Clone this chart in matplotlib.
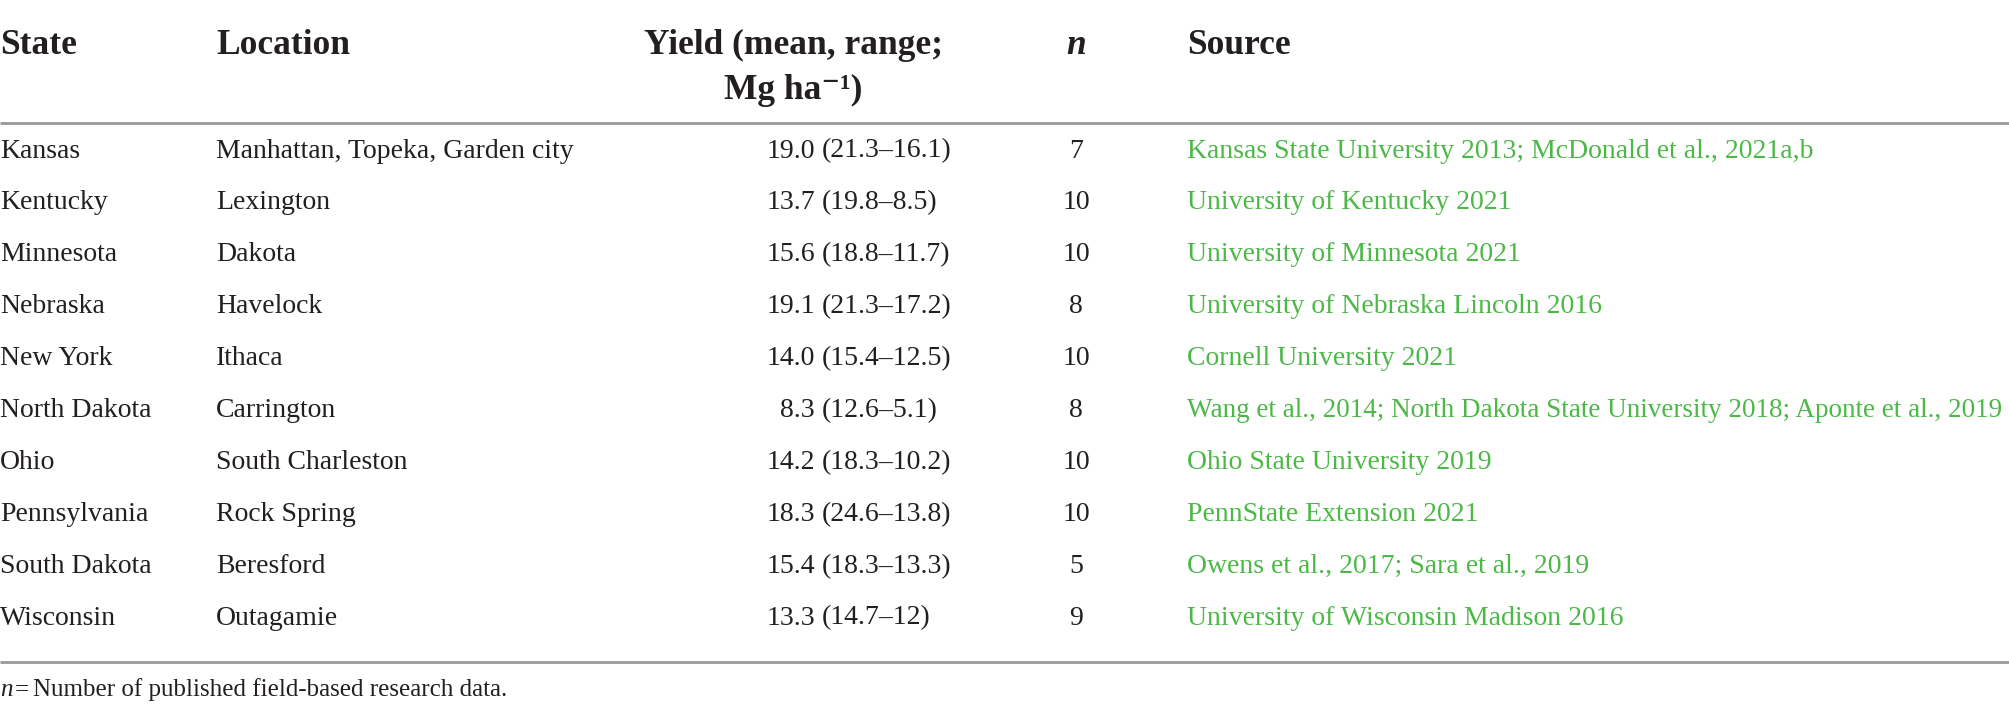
import matplotlib
matplotlib.use('Agg')
import matplotlib.pyplot as plt

# table data
states = ['Kansas', 'Kentucky', 'Minnesota', 'Nebraska', 'New York',
          'North Dakota', 'Ohio', 'Pennsylvania', 'South Dakota', 'Wisconsin']
locations = ['Manhattan, Topeka, Garden city', 'Lexington', 'Dakota', 'Havelock',
             'Ithaca', 'Carrington', 'South Charleston', 'Rock Spring',
             'Beresford', 'Outagamie']
yield_mean = [19.0, 13.7, 15.6, 19.1, 14.0, 8.3, 14.2, 18.3, 15.4, 13.3]
yield_max = [21.3, 19.8, 18.8, 21.3, 15.4, 12.6, 18.3, 24.6, 18.3, 14.7]
yield_min = [16.1, 8.5, 11.7, 17.2, 12.5, 5.1, 10.2, 13.8, 13.3, 12]
n_obs = [7, 10, 10, 8, 10, 8, 10, 10, 5, 9]
sources = ['Kansas State University 2013; McDonald et al., 2021a,b',
           'University of Kentucky 2021',
           'University of Minnesota 2021',
           'University of Nebraska Lincoln 2016',
           'Cornell University 2021',
           'Wang et al., 2014; North Dakota State University 2018; Aponte et al., 2019',
           'Ohio State University 2019',
           'PennState Extension 2021',
           'Owens et al., 2017; Sara et al., 2019',
           'University of Wisconsin Madison 2016']
footnote = 'Number of published field-based research data.'

W, H = 2009, 715
fig = plt.figure(figsize=(W / 100, H / 100), dpi=100)
ax = fig.add_axes([0, 0, 1, 1])
ax.set_xlim(0, W)
ax.set_ylim(H, 0)
ax.axis('off')

serif = ['Liberation Serif', 'DejaVu Serif']
ink = '#231f20'
green = '#4cb847'
body = 20
head = 25.5

# header
hy1, hy2 = 45, 90
ax.text(0, hy1, 'State', family=serif, weight='bold', size=head, color=ink, va='center')
ax.text(216, hy1, 'Location', family=serif, weight='bold', size=head, color=ink, va='center')
ax.text(793, hy1, 'Yield (mean, range;', family=serif, weight='bold', size=head,
        color=ink, va='center', ha='center')
ax.text(793, hy2, 'Mg ha\u207b\u00b9)', family=serif, weight='bold', size=head,
        color=ink, va='center', ha='center')
ax.text(1076, hy1, 'n', family=serif, weight='bold', style='italic', size=head,
        color=ink, va='center', ha='center')
ax.text(1187, hy1, 'Source', family=serif, weight='bold', size=head, color=ink, va='center')

# rules
ax.plot([0, W], [123, 123], color='#999999', lw=2, solid_capstyle='butt')
ax.plot([0, W], [662, 662], color='#999999', lw=2, solid_capstyle='butt')

# rows
renderer = fig.canvas.get_renderer()
y0, dy = 151, 51.9
for i in range(len(states)):
    y = y0 + i * dy
    ax.text(0, y, states[i], family=serif, size=body, color=ink, va='center')
    ax.text(216, y, locations[i], family=serif, size=body, color=ink, va='center')
    ax.text(815, y, f'{yield_mean[i]:.1f}', family=serif, size=body, color=ink,
            va='center', ha='right')
    ax.text(822, y, f'({yield_max[i]:g}\u2013{yield_min[i]:g})', family=serif,
            size=body, color=ink, va='center', ha='left')
    ax.text(1076, y, str(n_obs[i]), family=serif, size=body, color=ink,
            va='center', ha='center')
    t = ax.text(1187, y, sources[i], family=serif, size=body, color=green, va='center')
    # the long line is set tighter in the original so it fits the page
    room = W - 1187 - 8
    wid = t.get_window_extent(renderer).width
    if wid > room:
        t.set_fontsize(body * room / wid)

# footnote
fy = 690
fs = 18
ax.text(0, fy, 'n', family=serif, style='italic', size=fs, color=ink, va='center')
ax.text(15, fy, '=', family=serif, size=fs, color=ink, va='center')
ax.text(33, fy, footnote, family=serif, size=fs, color=ink, va='center')

fig.savefig('out.png', dpi=100)
